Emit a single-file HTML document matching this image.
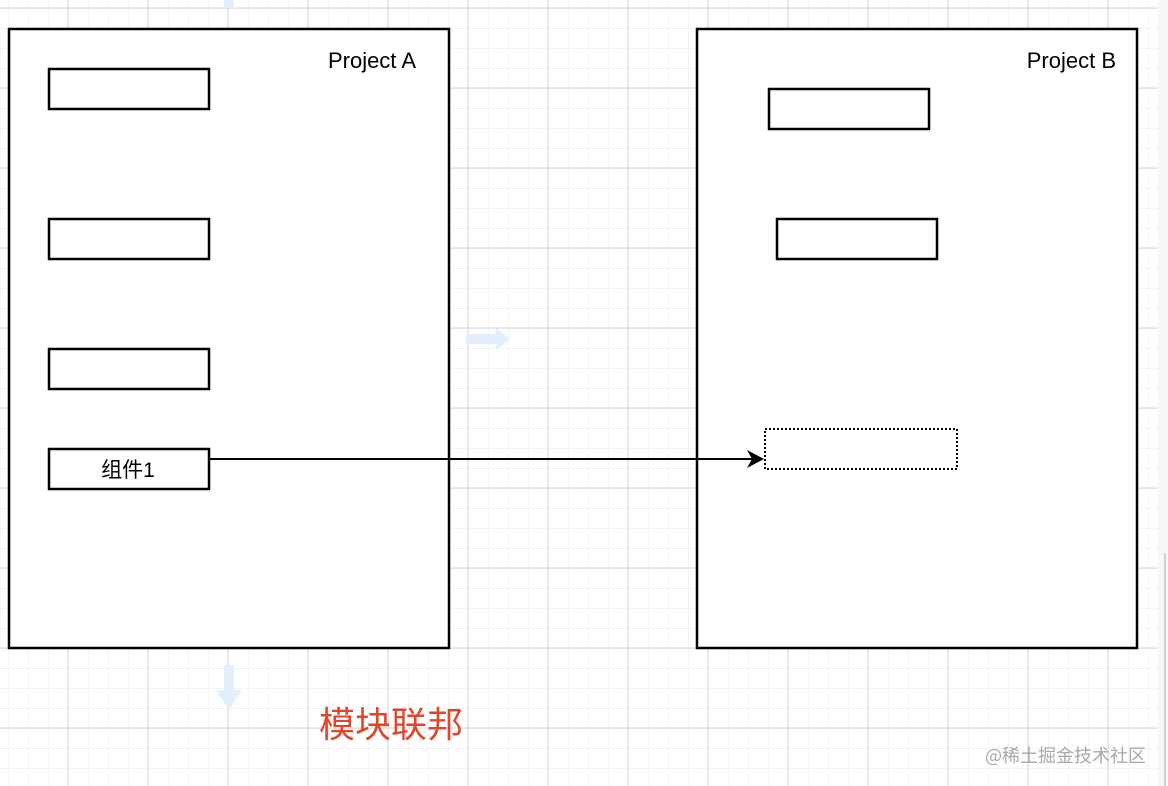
<!DOCTYPE html>
<html><head><meta charset="utf-8"><style>
html,body{margin:0;padding:0;background:#fff;width:1168px;height:786px;overflow:hidden}
</style></head><body>
<svg width="1168" height="786" xmlns="http://www.w3.org/2000/svg" style="display:block">
<defs>
<pattern id="minor" x="8" y="8" width="20" height="20" patternUnits="userSpaceOnUse">
<path d="M0 0H20M0 0V20" stroke="#f0f0f0" stroke-width="1.5" fill="none"/>
</pattern>
<pattern id="major" x="67.5" y="7.5" width="80" height="80" patternUnits="userSpaceOnUse">
<path d="M0 0.5H80M0.5 0V80" stroke="#d4d4d4" stroke-width="1" fill="none"/>
</pattern>
</defs>
<rect width="1158" height="786" fill="url(#minor)"/>
<rect width="1158" height="786" fill="url(#major)"/>
<rect x="1158" y="0" width="10" height="786" fill="#f6f6f6"/>
<line x1="1165" y1="553" x2="1165" y2="786" stroke="#cfcfcf" stroke-width="2"/>
<path d="M466 334H496V328L510 339L496 350V344H466Z" fill="#e3f0fb"/>
<path d="M224 665H234V690H242L229 710L216 690H224Z" fill="#e3f0fb"/>
<path d="M224 0H234V8H224Z" fill="#e3f0fb"/>
<rect x="9" y="29" width="440" height="619" fill="#fff" stroke="#000" stroke-width="2.5"/>
<rect x="697" y="29" width="440" height="619" fill="#fff" stroke="#000" stroke-width="2.5"/>
<g font-family="Liberation Sans, sans-serif" font-size="22" fill="#000">
<text x="416" y="68" text-anchor="end">Project A</text>
<text x="1116" y="68" text-anchor="end">Project B</text>
</g>
<g fill="#fff" stroke="#000" stroke-width="2.5">
<rect x="49" y="69" width="160" height="40"/>
<rect x="49" y="219" width="160" height="40"/>
<rect x="49" y="349" width="160" height="40"/>
<rect x="49" y="449" width="160" height="40"/>
<rect x="769" y="89" width="160" height="40"/>
<rect x="777" y="219" width="160" height="40"/>
</g>
<rect x="765" y="429" width="192" height="40" fill="#fff" stroke="#000" stroke-width="2" stroke-dasharray="2 2"/>
<text x="128" y="477" text-anchor="middle" font-family="Liberation Sans, 'Noto Sans CJK SC', sans-serif" font-size="21" fill="#000">组件1</text>
<line x1="209" y1="459" x2="752" y2="459" stroke="#000" stroke-width="2"/>
<path d="M764 459L747 450L752 459L747 468Z" fill="#000"/>
<text x="319" y="737" font-family="'Noto Sans CJK SC', sans-serif" font-size="36" fill="#e0462e">模块联邦</text>
<text x="985" y="762" font-family="'Noto Sans CJK SC', sans-serif" font-size="18" fill="#a8a8a8">@稀土掘金技术社区</text>
</svg>
</body></html>
